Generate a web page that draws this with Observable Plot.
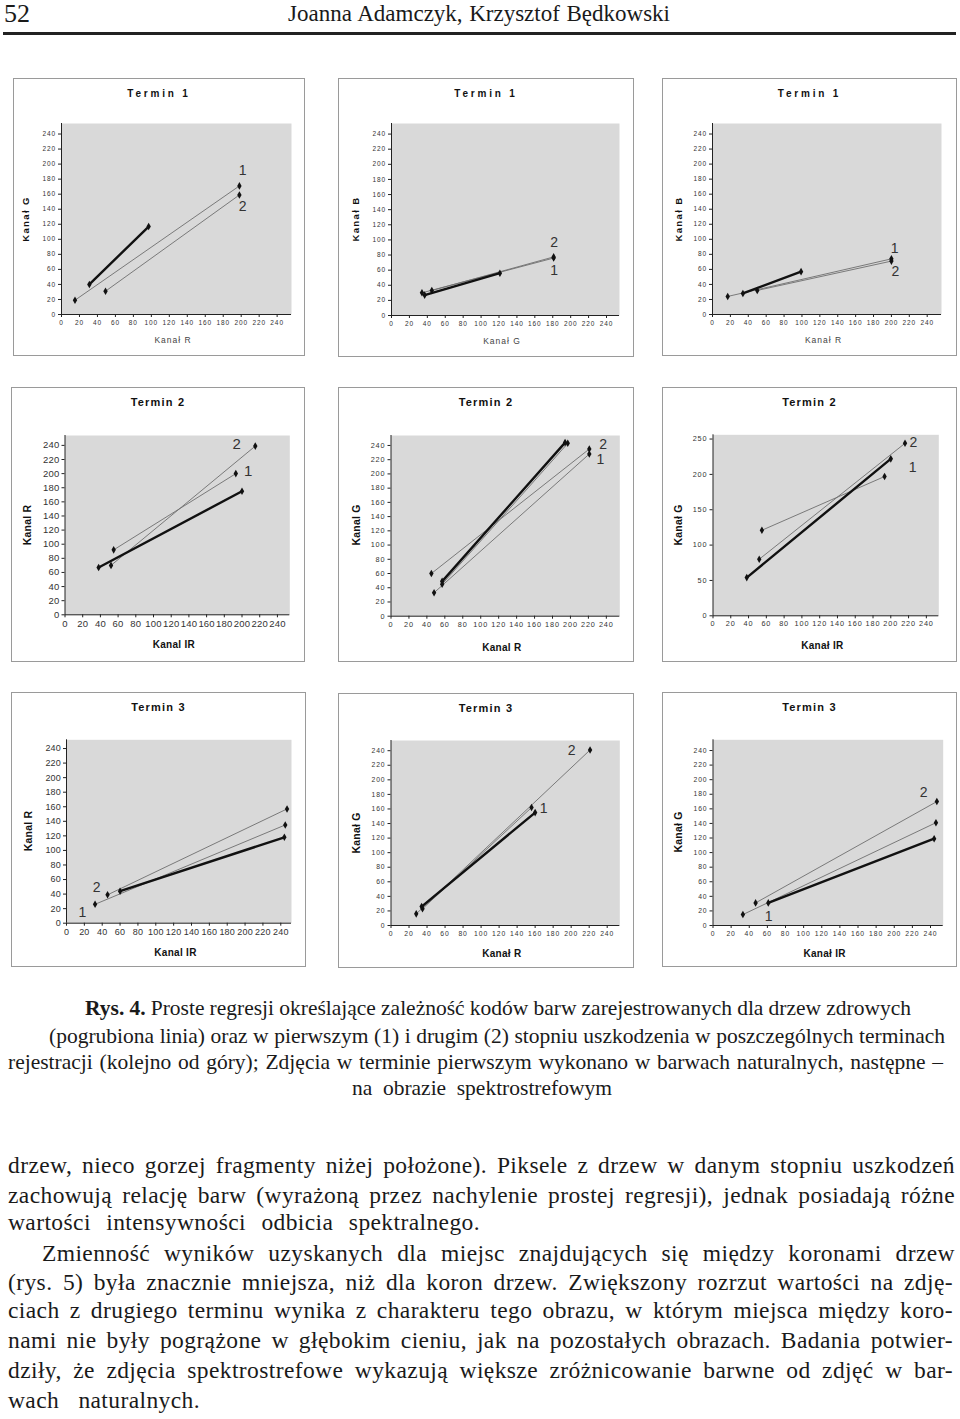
<!DOCTYPE html>
<html><head><meta charset="utf-8">
<script src="https://cdn.jsdelivr.net/npm/d3@7"></script>
<script src="https://cdn.jsdelivr.net/npm/@observablehq/plot@0.6"></script>
<style>
body{margin:0;background:#fff;}
#page{position:relative;width:960px;height:1419px;background:#fff;overflow:hidden;font-family:"Liberation Serif","Times New Roman",serif;color:#1a1a1a;}
.abs{position:absolute;white-space:nowrap;}
.box{position:absolute;box-shadow:inset 0 0 0 1px #9a9a9a;}
.box svg{position:absolute;left:0;top:0;}
.ttl{position:absolute;transform:translate(-50%,-50%);font-family:Arial,"Liberation Sans",sans-serif;font-weight:bold;white-space:nowrap;color:#111;}
.xl{position:absolute;transform:translate(-50%,-50%);font-family:Arial,"Liberation Sans",sans-serif;white-space:nowrap;}
.yl{position:absolute;transform:translate(-50%,-50%) rotate(-90deg);font-family:Arial,"Liberation Sans",sans-serif;font-weight:bold;white-space:nowrap;color:#111;}
.ln{position:absolute;white-space:nowrap;line-height:28px;}
</style></head>
<body><div id="page"></div>
<script>
// ---------- data ----------
const ticks240 = [0,20,40,60,80,100,120,140,160,180,200,220,240];
const ticks250 = [0,50,100,150,200,250];
const titles = ["Termin 1","Termin 1","Termin 1","Termin 2","Termin 2","Termin 2","Termin 3","Termin 3","Termin 3"];
const xNames = ["Kanał R","Kanał G","Kanał R","Kanal IR","Kanal R","Kanał IR","Kanal IR","Kanał R","Kanał IR"];
const yNames = ["Kanał G","Kanał B","Kanał B","Kanal R","Kanal G","Kanał G","Kanal R","Kanał G","Kanał G"];
// series: H = drzewa zdrowe (pogrubiona), 1, 2 = stopnie uszkodzenia; [series, x, y]
const t1_RG = [["H",31,40],["H",97,117],["1",15,19],["1",198,171],["2",49,31],["2",198,159]];
const t1_GB = [["H",37,27],["H",121,56],["1",34,30],["1",181,76],["2",45,33],["2",181,77.5]];
const t1_RB = [["H",34,28],["H",99,57],["1",17,24],["1",200,74],["2",50,32],["2",200,71]];
const t2_IRR = [["H",38,67],["H",200,175],["1",55,92],["1",193,200],["2",52,70],["2",215,239]];
const t2_RG = [["H",57,49],["H",194,244],["0",57,45],["0",197,243],["1",48,33],["1",221,228],["2",45,60],["2",221,235]];
const t2_IRG = [["H",38,54],["H",200,222],["1",55,121],["1",193,197],["2",52,80],["2",216,244]];
const t3_IRR = [["H",60,44],["H",244,118],["1",32,26],["1",245,135],["2",46,39],["2",247,157]];
const t3_RG = [["H",34,26],["H",160,155],["1",35,23],["1",156,162],["2",28,16],["2",221,241]];
const t3_IRG = [["H",61,31],["H",244,119],["1",33,15],["1",246,141],["2",47,31],["2",247,170]];
// number labels [text, x, y]
const lab_t1_RG = [["1",202,192],["2",202,144]];
const lab_t1_GB = [["2",182,97],["1",182,59]];
const lab_t1_RB = [["1",204,88],["2",205,57]];
const lab_t2_IRR = [["2",194,241],["1",207,203]];
const lab_t2_RG = [["2",237,241],["1",234,220]];
const lab_t2_IRG = [["2",226,245],["1",225,210]];
const lab_t3_IRR = [["2",34,49],["1",18,14]];
const lab_t3_RG = [["2",201,240],["1",170,161]];
const lab_t3_IRG = [["2",233,183],["1",62,12]];
const seriesData = [t1_RG,t1_GB,t1_RB,t2_IRR,t2_RG,t2_IRG,t3_IRR,t3_RG,t3_IRG];
const labelData = [lab_t1_RG,lab_t1_GB,lab_t1_RB,lab_t2_IRR,lab_t2_RG,lab_t2_IRG,lab_t3_IRR,lab_t3_RG,lab_t3_IRG];

// ---------- layout ----------
// [boxLeft, boxTop, w, h, grayLeft, grayTop, grayRight, grayBottom, xmax, ymax, tickFont, xLabelY, yLabelX]
const layout = [
  [13,78,292,278, 61,123,291,314, 256,254, 6.5, 340, 25],
  [338,78,296,279, 391,123,619,315, 254.5,254, 6.5, 340.7, 355.3],
  [662,78,295,278, 712,123,941,314, 256,254, 6.5, 339.7, 678.3],
  [11,387,294,275, 64.5,435,289.3,614.3, 254,254, 9.5, 644.3, 26.7],
  [338,387,296,275, 390.5,435,619.3,615.7, 255,254, 7.3, 646.7, 356],
  [662,387,295,275, 712.5,434.3,938.3,615.3, 254,256, 7.3, 645, 678],
  [11,692,295,275, 66,739.3,291,922.7, 252,252, 9, 951.7, 28.3],
  [338,693,296,275, 390.5,740,619.3,925, 254,254, 6.8, 953.3, 356],
  [662,692,295,275, 712.5,739.3,942.7,925, 254,254.7, 6.8, 952.7, 678]
];

const page = document.getElementById("page");
function add(cls, html, css){const d=document.createElement("div");d.className=cls;d.innerHTML=html;Object.assign(d.style,css);page.appendChild(d);return d;}

layout.forEach((L,i)=>{
  const [bl,bt,w,h,gl,gt,gr,gb,xmax,ymax,tf,xly,ylx] = L;
  const rows = seriesData[i].map(([s,x,y])=>({s,x,y}));
  const labs = labelData[i].map(([t,x,y])=>({t,x,y}));
  const row1 = i<3;
  const yt = i===5 ? ticks250 : ticks240;
  const box = add("box","",{left:bl+"px",top:bt+"px",width:w+"px",height:h+"px"});
  const svg = Plot.plot({
    width:w, height:h,
    marginLeft:gl-bl, marginTop:gt-bt, marginRight:bl+w-gr, marginBottom:bt+h-gb,
    x:{domain:[0,xmax]}, y:{domain:[0,ymax]},
    style:{background:"transparent",fontFamily:"Arial, 'Liberation Sans', sans-serif",color:"#222",overflow:"visible",letterSpacing: tf<7.5 ? "0.9px":"0.2px"},
    marks:[
      Plot.frame({fill:"#d9d9d9",stroke:null}),
      Plot.line(rows.filter(d=>d.s!=="H"),{x:"x",y:"y",z:"s",stroke:"#6e6e6e",strokeWidth:0.9}),
      Plot.line(rows.filter(d=>d.s==="H"),{x:"x",y:"y",stroke:"#111",strokeWidth:2.4}),
      Plot.dot(rows,{x:"x",y:"y",symbol:"diamond",r:2.3,fill:"#111"}),
      Plot.ruleX([0],{stroke:"#222"}),
      Plot.ruleY([0],{stroke:"#222"}),
      Plot.axisX(ticks240,{tickSize:3,tickPadding:2.5,fontSize:tf,label:null,fill:"#333"}),
      Plot.axisY(yt,{tickSize:3,tickPadding:2.5,fontSize:tf,label:null,fill:"#333"}),
      Plot.text(labs,{x:"x",y:"y",text:"t",fontSize:i===3?15:14,fill:"#333",letterSpacing:"0"})
    ]
  });
  box.appendChild(svg);
  add("ttl",titles[i],{left:(bl+w/2)+"px",top:(bt+15)+"px",letterSpacing:row1?"2.8px":"1.2px",fontSize:(row1?10:11)+"px"});
  add("xl",xNames[i],{left:((gl+gr)/2-3)+"px",top:xly+"px",fontWeight:row1?"normal":"bold",fontSize:row1?"8.5px":"10px",letterSpacing:row1?"1px":"0.3px",color:row1?"#444":"#111"});
  add("yl",yNames[i],{left:ylx+"px",top:((gt+gb)/2)+"px",fontSize:row1?"9.5px":"10.5px",letterSpacing:row1?"1.4px":"0.2px"});
});

// fit a single text line to an exact width by adjusting the word spacing
function fitLine(el, target){
  const w = el.getBoundingClientRect().width;
  const spaces = (el.textContent.match(/ /g)||[]).length;
  if(spaces>0) el.style.wordSpacing = ((target - w)/spaces) + "px";
}

// ---------- header ----------
add("abs","52",{left:"4px",top:"2px",fontSize:"26px",lineHeight:"24px"});
const hdr = add("abs","Joanna Adamczyk, Krzysztof Będkowski",{left:"288px",top:"1px",fontSize:"23px",lineHeight:"26px"});
fitLine(hdr, 382);
add("abs","",{left:"3px",top:"32px",width:"953px",height:"3px",background:"#222"});

// ---------- caption ----------
const cap = [
  ['<b>Rys. 4.</b> Proste regresji określające zależność kodów barw zarejestrowanych dla drzew zdrowych',85,911,1008],
  ['(pogrubiona linia) oraz w pierwszym (1) i drugim (2) stopniu uszkodzenia w poszczególnych terminach',49,945,1036],
  ['rejestracji (kolejno od góry); Zdjęcia w terminie pierwszym wykonano w barwach naturalnych, następne –',8,943,1062],
  ['na obrazie spektrostrefowym',352,612,1088]
];
cap.forEach(([t,a,b,y])=>{
  const d = add("ln",t,{left:a+"px",top:(y-14)+"px",fontSize:"21.5px"});
  fitLine(d, b-a);
});

// ---------- body ----------
const body = [
  ['drzew, nieco gorzej fragmenty niżej położone). Piksele z drzew w danym stopniu uszkodzeń',8,955,1165],
  ['zachowują relację barw (wyrażoną przez nachylenie prostej regresji), jednak posiadają różne',8,955,1195],
  ['wartości intensywności odbicia spektralnego.',8,480,1222],
  ['Zmienność wyników uzyskanych dla miejsc znajdujących się między koronami drzew',42,955,1253],
  ['(rys. 5) była znacznie mniejsza, niż dla koron drzew. Zwiększony rozrzut wartości na zdję-',8,953,1282],
  ['ciach z drugiego terminu wynika z charakteru tego obrazu, w którym miejsca między koro-',8,953,1310],
  ['nami nie były pogrążone w głębokim cieniu, jak na pozostałych obrazach. Badania potwier-',8,953,1340],
  ['dziły, że zdjęcia spektrostrefowe wykazują większe zróżnicowanie barwne od zdjęć w bar-',8,953,1370],
  ['wach naturalnych.',8,200,1400]
];
body.forEach(([t,a,b,y])=>{
  const d = add("ln",t,{left:a+"px",top:(y-14)+"px",fontSize:"23.5px",letterSpacing:"0.4px"});
  fitLine(d, b-a);
});
</script></body></html>
